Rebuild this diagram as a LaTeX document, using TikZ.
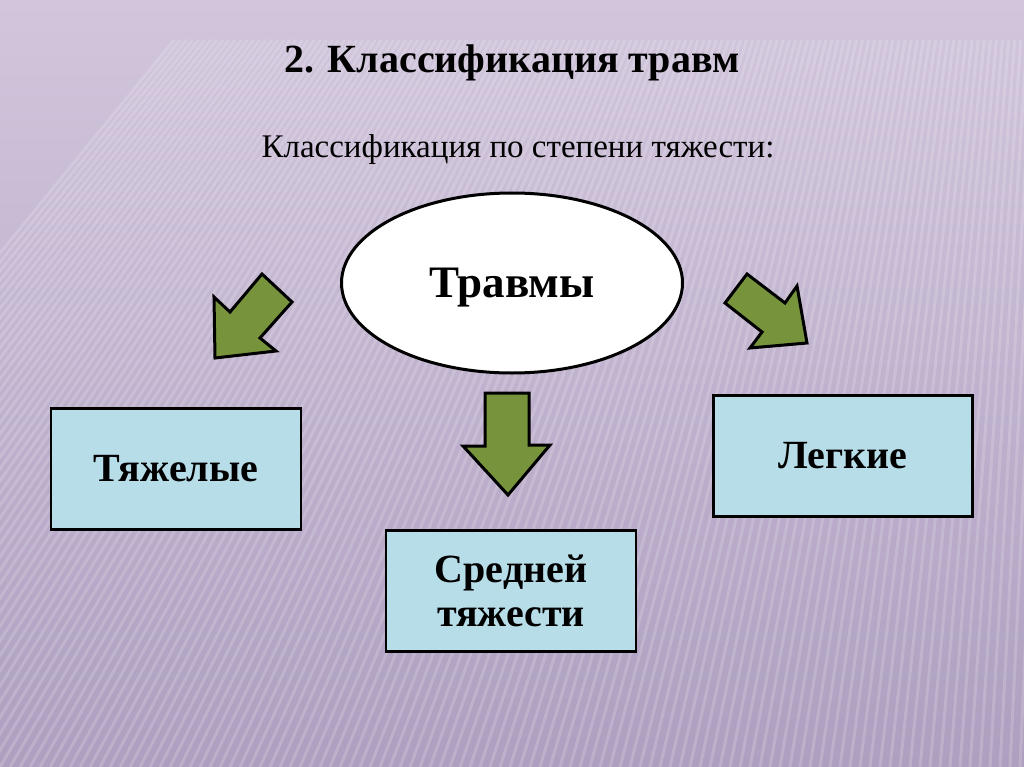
\documentclass[tikz,border=0pt]{standalone}
\usepackage{fontspec}
\setmainfont{Liberation Serif}
\usetikzlibrary{shapes.geometric}
\begin{document}
\begin{tikzpicture}[x=1pt,y=-1pt,
  box/.style={draw=black,line width=2.5pt,fill=boxblue,minimum width=250pt,minimum height=121pt,inner sep=0pt,font=\fontsize{40}{44}\selectfont\bfseries,align=center},
  grarrow/.style={draw=black,line width=3pt,fill=arrgreen,line join=miter}]
\definecolor{bgtop}{HTML}{D2C6DC}
\definecolor{bgbot}{HTML}{AE9FC0}
\definecolor{boxblue}{HTML}{B7DDE8}
\definecolor{arrgreen}{HTML}{77933C}
\useasboundingbox (0,0) rectangle (1024,767);
\shade[top color=bgtop,bottom color=bgbot] (0,0) rectangle (1024,767);
\begin{scope}
\clip (0,40) rectangle (1024,767);
\foreach \bx in {-420,-410,...,1030} {
  \draw[white,opacity=0.17,line width=3pt] (\bx,767) -- ({\bx+430*(1-\bx/1100)},40);
}
\end{scope}
\node[font=\fontsize{40}{44}\selectfont\bfseries] (title) at (512,63) {2. Классификация травм};
\node[font=\fontsize{33}{38}\selectfont] (sub) at (518,150) {Классификация по степени тяжести:};
\node[draw=black,line width=3pt,fill=white,ellipse,minimum width=341pt,minimum height=180pt,inner sep=0pt,text depth=0pt,font=\fontsize{45}{50}\selectfont\bfseries] (main) at (512,283) {Травмы};
\node[box] (heavy) at (176,469) {Тяжелые};
\node[box] (mid) at (511,591) {Средней\\тяжести};
\node[box,minimum width=259pt] (light) at (843,456) {\raisebox{-4pt}{Легкие}};
\draw[grarrow] (214,297) -- (230,312) -- (262,274) -- (292,302) -- (260,338) -- (276,351) -- (215,358) -- cycle;
\draw[grarrow] (725,303) -- (747,274) -- (785,303) -- (797,286) -- (807,343) -- (750,348) -- (762,332) -- cycle;
\draw[grarrow] (485,393) -- (529,393) -- (529,445) -- (550,445) -- (508,495) -- (463,446) -- (485,446) -- cycle;
\end{tikzpicture}
\end{document}
